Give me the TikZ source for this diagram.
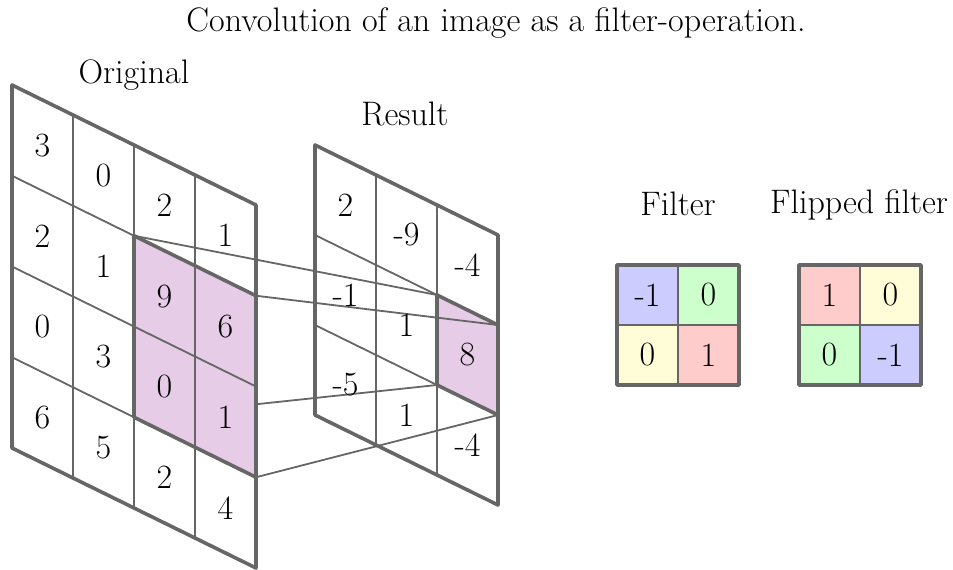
\documentclass[tikz,border=0pt]{standalone}
\usepackage{fontspec}
\definecolor{gline}{RGB}{102,102,102}
\definecolor{hl}{RGB}{230,204,230}
\definecolor{fblue}{RGB}{204,204,255}
\definecolor{fgreen}{RGB}{204,255,204}
\definecolor{fyellow}{RGB}{255,252,216}
\definecolor{fred}{RGB}{255,204,204}
\tikzset{
  thin grid/.style={draw=gline, line width=1.8pt},
  thick border/.style={draw=gline, line width=3.6pt, line join=round},
  conn/.style={draw=gline, line width=1.8pt},
  num/.style={font=\fontsize{34}{40}\selectfont, inner sep=0pt},
  lab/.style={font=\fontsize{34}{40}\selectfont, inner sep=0pt, anchor=base},
  fcell/.style={draw=gline, line width=1.8pt, minimum width=61pt, minimum height=60pt,
                inner sep=0pt, font=\fontsize{34}{40}\selectfont},
}
\begin{document}
\begin{tikzpicture}[x=1pt,y=-1pt]
\useasboundingbox (0,0) rectangle (953,570);
% corner coordinates
\foreach \c in {0,...,4}{\foreach \r in {0,...,4}{
  \coordinate (o-\c-\r) at ({12+61*\c},{85+30*\c+90.75*\r});}}
\foreach \c in {0,...,3}{\foreach \r in {0,...,3}{
  \coordinate (r-\c-\r) at ({315+61*\c},{145+30*\c+90*\r});}}
% result highlight
\fill[hl] (r-2-1) -- (r-3-1) -- (r-3-2) -- (r-2-2) -- cycle;
% connectors
\draw[conn] (o-2-1) -- (r-2-1);
\draw[conn] (o-4-1) -- (r-3-1);
\draw[conn] (o-2-3) -- (r-2-2);
\draw[conn] (o-4-3) -- (r-3-2);
% original highlight
\fill[hl] (o-2-1) -- (o-4-1) -- (o-4-3) -- (o-2-3) -- cycle;
% original grid
\foreach \i in {1,2,3}{
  \draw[thin grid] (o-\i-0) -- (o-\i-4);
  \draw[thin grid] (o-0-\i) -- (o-4-\i);}
\draw[thick border] (o-0-0) -- (o-4-0) -- (o-4-4) -- (o-0-4) -- cycle;
\draw[thick border] (o-2-1) -- (o-4-1) -- (o-4-3) -- (o-2-3) -- cycle;
% result grid
\foreach \i in {1,2}{
  \draw[thin grid] (r-\i-0) -- (r-\i-3);
  \draw[thin grid] (r-0-\i) -- (r-3-\i);}
\draw[thick border] (r-0-0) -- (r-3-0) -- (r-3-3) -- (r-0-3) -- cycle;
\draw[thick border] (r-2-1) -- (r-3-1) -- (r-3-2) -- (r-2-2) -- cycle;
% original numbers
\foreach \row [count=\r from 0] in {{3,0,2,1},{2,1,9,6},{0,3,0,1},{6,5,2,4}}{
  \foreach \v [count=\c from 0] in \row{
    \node[num] (on-\c-\r) at ({12+61*\c+30.5},{85+30*\c+15+90.75*\r+45.375}) {\v};}}
% result numbers
\foreach \row [count=\r from 0] in {{2,-9,-4},{-1,1,8},{-5,1,-4}}{
  \foreach \v [count=\c from 0] in \row{
    \node[num] (rn-\c-\r) at ({315+61*\c+30.5},{145+30*\c+15+90*\r+45}) {\v};}}
% labels
\node[lab] (title) at (496,31) {Convolution of an image as a filter-operation.};
\node[lab] (orig) at (134,83) {Original};
\node[lab] (res) at (405,125) {Result};
\node[lab] (filt) at (678,215) {Filter};
\node[lab] (flip) at (859,213) {Flipped filter};
% filter
\node[fcell, fill=fblue]   (f-0-0) at (647.5,295) {-1};
\node[fcell, fill=fgreen]  (f-1-0) at (708.5,295) {0};
\node[fcell, fill=fyellow] (f-0-1) at (647.5,355) {0};
\node[fcell, fill=fred]    (f-1-1) at (708.5,355) {1};
\draw[thick border] (617,265) rectangle (739,385);
% flipped filter
\node[fcell, fill=fred]    (g-0-0) at (829.5,295) {1};
\node[fcell, fill=fyellow] (g-1-0) at (890.5,295) {0};
\node[fcell, fill=fgreen]  (g-0-1) at (829.5,355) {0};
\node[fcell, fill=fblue]   (g-1-1) at (890.5,355) {-1};
\draw[thick border] (799,265) rectangle (921,385);
\end{tikzpicture}
\end{document}
